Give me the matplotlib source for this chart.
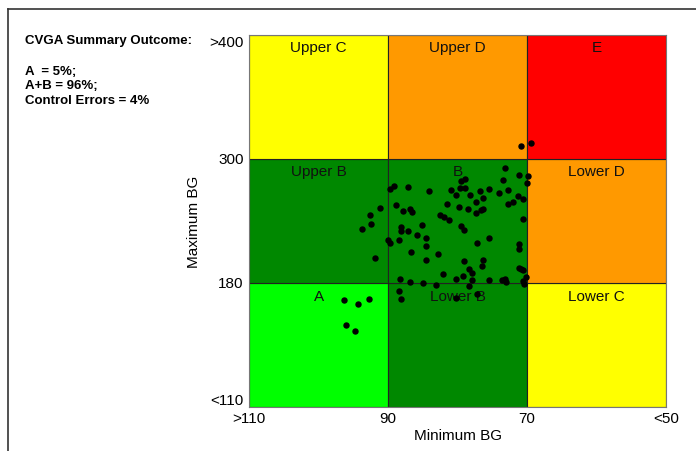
import numpy as np
import matplotlib
matplotlib.use("Agg")
import matplotlib.pyplot as plt
from matplotlib.patches import Rectangle
from matplotlib.lines import Line2D

plt.rcParams['font.family'] = ['Liberation Sans', 'DejaVu Sans']

# grid breakpoints (BG values) and their labels
min_bg_breaks = [110, 90, 70, 50]
min_bg_labels = ['>110', '90', '70', '<50']
max_bg_breaks = [110, 180, 300, 400]
max_bg_labels = ['<110', '180', '300', '>400']

zone_names = [['A', 'Lower B', 'Lower C'],
              ['Upper B', 'B', 'Lower D'],
              ['Upper C', 'Upper D', 'E']]
zone_colors = [['#00ff00', '#008800', '#ffff00'],
               ['#008800', '#008800', '#ff9900'],
               ['#ffff00', '#ff9900', '#ff0000']]

summary = ['A  = 5%;', 'A+B = 96%;', 'Control Errors = 4%']

# per-patient minimum / maximum BG
min_bg = [70.9, 69.4, 73.2, 71.1, 69.9, 73.4, 70.0, 79.5, 78.9, 79.7,
          78.9, 80.9, 80.2, 78.2, 76.8, 75.5, 72.8, 74.0, 76.4, 71.3,
          70.6, 72.7, 72.1, 77.4, 79.8, 78.5, 76.7, 76.4, 77.4, 81.5,
          84.1, 87.1, 89.1, 89.8, 88.9, 87.9, 86.8, 86.6, 91.2, 92.6,
          92.5, 93.8, 82.6, 82.0, 81.2, 70.6, 85.2, 88.2, 88.2, 87.2,
          79.5, 79.1, 85.9, 84.6, 88.4, 90.1, 89.8, 84.5, 75.5, 77.2,
          71.2, 71.2, 86.7, 82.8, 91.9, 84.6, 79.1, 76.3, 76.5, 78.3,
          78.0, 71.2, 70.9, 70.6, 82.1, 79.2, 80.2, 70.2, 88.3, 86.8,
          85.0, 83.1, 78.4, 77.9, 75.5, 73.6, 73.2, 73.1, 70.6, 70.4,
          88.5, 88.2, 80.2, 77.2, 96.4, 94.3, 92.7, 96.1, 94.8]
max_bg = [310.6, 312.8, 291.5, 284.7, 283.5, 279.6, 276.7, 278.9, 280.6, 271.6,
          271.9, 269.7, 265.4, 265.4, 268.7, 271.2, 270.2, 266.8, 262.5, 264.4,
          261.5, 256.4, 258.1, 258.1, 253.8, 251.9, 250.9, 251.9, 247.7, 256.7,
          268.7, 273.1, 274.1, 270.6, 255.5, 250.0, 251.9, 248.7, 252.9, 246.1,
          236.8, 232.0, 245.5, 244.2, 241.0, 241.9, 235.8, 234.5, 230.6, 230.0,
          234.9, 231.0, 226.8, 223.3, 221.9, 221.4, 218.7, 216.1, 223.3, 218.5,
          217.8, 212.9, 209.8, 207.8, 204.3, 202.0, 201.4, 202.0, 196.2, 193.6,
          189.8, 194.9, 193.6, 192.7, 188.5, 186.9, 184.3, 186.2, 184.3, 181.1,
          180.1, 179.1, 178.5, 183.0, 183.0, 183.0, 184.1, 181.4, 182.2, 179.5,
          175.4, 171.0, 171.4, 173.7, 170.3, 168.2, 170.9, 156.6, 153.0]


def x_pos(v):
    return np.interp(v, min_bg_breaks[::-1], [3, 2, 1, 0])


def y_pos(v):
    return np.interp(v, max_bg_breaks, [0, 1, 2, 3])


fig = plt.figure(figsize=(6.96, 4.52), dpi=100)
ax = fig.add_axes([0.3582, 0.0967, 0.5987, 0.8243])

for j in range(3):
    for i in range(3):
        ax.add_patch(Rectangle((i, j), 1, 1, facecolor=zone_colors[j][i],
                               edgecolor='#222222', linewidth=0.8, zorder=1))
        ax.text(i + 0.5, j + 0.9, zone_names[j][i], ha='center', va='center',
                fontsize=11, color='#111111', zorder=2)

ax.plot(x_pos(np.array(min_bg)), y_pos(np.array(max_bg)), 'o', color='black',
        markersize=3.6, linestyle='none', zorder=3, clip_on=False)

ax.set_xlim(0, 3)
ax.set_ylim(0, 3)
ax.set_xticks(x_pos(np.array(min_bg_breaks)))
ax.set_xticklabels(min_bg_labels, fontsize=11)
ax.set_yticks(y_pos(np.array(max_bg_breaks)))
ax.set_yticklabels(max_bg_labels, fontsize=11)
ax.tick_params(length=0, pad=4)
ax.tick_params(axis='x', pad=3)
for lab in ax.get_yticklabels():
    lab.set_verticalalignment('center')
ax.get_yticklabels()[0].set_verticalalignment('bottom')
ax.get_yticklabels()[-1].set_verticalalignment('top')
for sp in ax.spines.values():
    sp.set_color('#777777')
    sp.set_linewidth(0.8)
ax.set_xlabel('Minimum BG', fontsize=11, labelpad=2)
ax.set_ylabel('Maximum BG', fontsize=11, labelpad=6)

fig.text(0.036, 0.910, 'CVGA Summary Outcome:', fontsize=9.5, fontweight='bold',
         va='center')
for k, line in enumerate(summary):
    fig.text(0.036, 0.8414 - k * 0.0325, line, fontsize=9.5, fontweight='bold',
             va='center')

# outer frame (top and left)
fig.add_artist(Line2D([0.0115, 1.0], [0.978, 0.978], color='#333333',
                      linewidth=1.2))
fig.add_artist(Line2D([0.0122, 0.0122], [0.0, 0.978], color='#333333',
                      linewidth=1.2))

fig.savefig('out.png', dpi=100)
